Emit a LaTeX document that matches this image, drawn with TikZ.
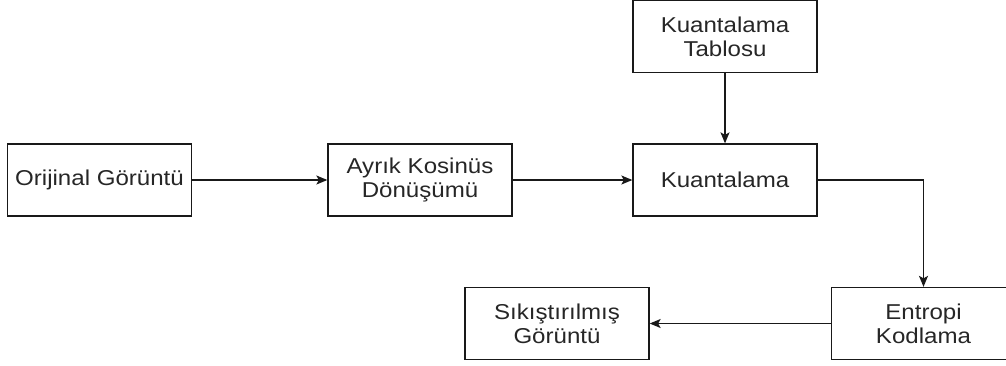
\documentclass[tikz,border=0pt]{standalone}
\usepackage{fontspec}
\setmainfont{Liberation Sans}[FakeStretch=1.12]
\usetikzlibrary{arrows.meta}
\begin{document}
\begin{tikzpicture}[x=1pt,y=-1pt,
  blk/.style={draw=black!90,line width=1.3pt,minimum width=184pt,minimum height=72pt,inner sep=0pt,align=center,
    font=\fontsize{21.5}{24}\selectfont,text=black!85},
  conn/.style={draw=black!90,line width=1.3pt,-{Stealth[length=11pt,width=9pt,inset=2.5pt]}}]
\useasboundingbox (0,0) rectangle (1006,365);
\clip (0,0) rectangle (1006,365);
\node[blk] (orig) at (99.5,180) {Orijinal Görüntü};
\node[blk] (dct) at (420,180) {Ayrık Kosinüs\\Dönüşümü};
\node[blk] (quant) at (725,180) {Kuantalama};
\node[blk] (table) at (725,36.5) {Kuantalama\\Tablosu};
\node[blk] (ent) at (923.5,323.5) {Entropi\\Kodlama};
\node[blk] (comp) at (557,323.5) {Sıkıştırılmış\\Görüntü};
\draw[conn] (orig.east) -- (dct.west);
\draw[conn] (dct.east) -- (quant.west);
\draw[conn] (table.south) -- (quant.north);
\draw[conn] (quant.east) -| (ent.north);
\draw[conn] (ent.west) -- (comp.east);
\end{tikzpicture}
\end{document}
